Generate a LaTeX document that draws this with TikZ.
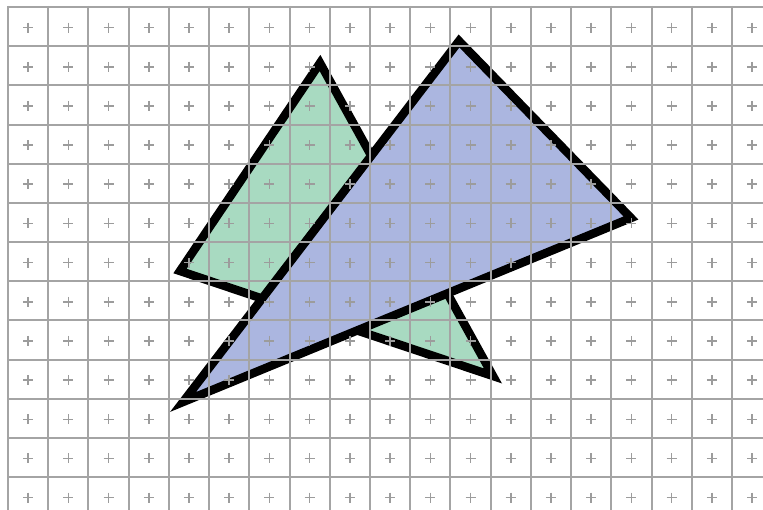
\documentclass[tikz,border=0pt]{standalone}
\definecolor{rastGreen}{HTML}{A8DAC1}
\definecolor{rastBlue}{HTML}{ABB6E0}
\definecolor{rastGray}{HTML}{A4A4A4}
\definecolor{rastMark}{HTML}{9C9C9C}
\tikzset{
  rast tri/.style={draw=black, line width=8.5pt, line join=miter},
  rast green/.style={rast tri, fill=rastGreen},
  rast blue/.style={rast tri, fill=rastBlue},
  rast line/.style={draw=rastGray, line width=2pt},
  rast mark/.style={draw=rastMark, line width=1.6pt}
}
\begin{document}
\begin{tikzpicture}[x=1pt,y=-1pt]
  \fill[white] (0,0) rectangle (763,510);
  \useasboundingbox (0,0) rectangle (763,510);
  % the two triangles
  \coordinate (g top) at (320,63);
  \coordinate (g left) at (180,271);
  \coordinate (g right) at (493,376);
  \coordinate (b top) at (459,41);
  \coordinate (b right) at (631,218);
  \coordinate (b left) at (183,402);
  \draw[rast green] (g top) -- (g left) -- (g right) -- cycle;
  \draw[rast blue] (b top) -- (b right) -- (b left) -- cycle;
  % pixel grid, drawn over the shapes
  \foreach \i [evaluate=\i as \gx using 8+40.22*\i] in {0,...,18}
    \draw[rast line] (\gx,6) -- (\gx,510);
  \foreach \j [evaluate=\j as \gy using 7+39.17*\j] in {0,...,12}
    \draw[rast line] (7,\gy) -- (763,\gy);
  % sample marks at the cell centres
  \foreach \i in {0,...,18}
    \foreach \j in {0,...,12} {
      \pgfmathsetmacro\px{28.1+40.22*\i}
      \pgfmathsetmacro\py{27.6+39.17*\j}
      \draw[rast mark] (\px-5,\py) -- (\px+5,\py) (\px,\py-5) -- (\px,\py+5);
    }
\end{tikzpicture}
\end{document}
